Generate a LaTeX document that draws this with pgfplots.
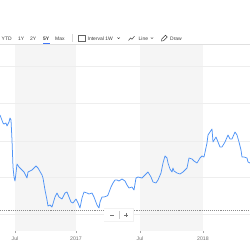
\documentclass[border=0pt]{standalone}
\usepackage{pgfplots}
\pgfplotsset{compat=1.18}
\usepackage{fontspec}
\setmainfont{Liberation Sans}
\definecolor{lineblue}{RGB}{80,148,246}
\definecolor{band}{RGB}{245,245,245}
\definecolor{gridc}{RGB}{238,238,238}
\definecolor{txt}{RGB}{60,60,60}
\definecolor{ticktxt}{RGB}{110,110,110}
\pgfplotstableread{
x y
0 135
3 127
4 126
6 127
7 124
9 128
10 132
11 130
12 110
13 83
14 73
15 69
16 77
17 86
19 83
22 80
24 78
27 72
28 78
32 80
36 84
38 82
42 75
43 72
45 60
47 50
48 44
50 45
52 43
55 53
57 57
59 53
62 51
65 57
67 58
69 53
71 48
73 47
76 51
78 47
80 42
82 52
84 58
87 57
89 56
92 57
94 53
97 45
99 42
100 48
102 53
104 53
107 54
108 55
111 63
113 67
115 70
117 70
119 69
122 71
125 69
127 65
129 62
132 63
134 60
136 72
138 73
142 72
145 75
148 78
151 73
153 68
156 67
158 70
161 77
163 87
165 94
167 92
168 87
170 81
172 78
173 82
174 79
177 77
180 76
183 78
187 82
189 92
192 91
194 89
197 87
200 92
202 94
204 93
207 107
208 115
210 118
212 121
213 108
216 113
218 108
220 103
222 103
225 108
228 115
230 111
232 111
235 118
237 115
239 108
241 100
242 93
244 93
247 92
248 88
250 87
}\price
\begin{document}
\begin{tikzpicture}[x=1bp,y=1bp]
\begin{axis}[
  set layers,
  scale only axis, width=250bp, height=186bp,
  at={(0,19)}, anchor=south west,
  xmin=0, xmax=250, ymin=19, ymax=205,
  axis line style={draw=none},
  ytick={36,73,109,147,184}, yticklabels={},
  ymajorgrids, grid style={gridc, line width=0.5bp},
  xtick={15,76,140,203}, xticklabels={Jul,2017,Jul,2018},
  xtick pos=lower, ytick style={draw=none},
  xtick style={draw=gridc!70!black, line width=0.4bp},
  tick align=outside, major tick length=2bp,
  xticklabel style={font=\fontsize{5.2}{6}\selectfont, text=ticktxt, yshift=-0.5bp},
]
\begin{pgfonlayer}{axis background}
\fill[band] (axis cs:15,19) rectangle (axis cs:76,205);
\fill[band] (axis cs:140,19) rectangle (axis cs:203,205);
\end{pgfonlayer}
\draw[gridc!85!black, line width=0.5bp] (axis cs:0,19) -- (axis cs:250,19);
\draw[black!45, line width=0.4bp, dash pattern=on 1.1bp off 1bp] (axis cs:0,40) -- (axis cs:250,40);
\addplot[lineblue, line width=0.75bp, line join=round, no marks] table[x=x,y=y] {\price};
\end{axis}
% zoom buttons
\fill[black!5] (103.5,27.5) rectangle (133.5,41.5);
\fill[white] (104,28.5) rectangle (133,41);
\draw[black!55, line width=0.6bp] (110,35) -- (114,35);
\draw[black!55, line width=0.6bp] (124,35) -- (128,35) (126,33) -- (126,37);
\draw[black!20, line width=0.4bp] (119,31) -- (119,39);
% toolbar separator
\draw[black!12, line width=0.5bp] (0,206) -- (250,206);
% toolbar text
\begin{scope}[every node/.style={font=\fontsize{5}{6}\selectfont, text=txt, inner sep=0pt, anchor=base west}]
\node at (1.5,210) {YTD};
\node at (18,210) {1Y};
\node at (30,210) {2Y};
\node[font=\fontsize{5}{6}\selectfont\bfseries] at (43,210) {5Y};
\node at (55,210) {Max};
\node at (87.5,210) {Interval 1W};
\node at (138.5,210) {Line};
\node at (170,210) {Draw};
\end{scope}
\fill[lineblue!80!blue] (42.5,206.3) rectangle (50,207.3);
\draw[black!15, line width=0.4bp] (72.5,208) -- (72.5,216);
% calendar icon
\draw[txt!80, line width=0.45bp] (78.5,208.8) rectangle (85.5,214.8);
\fill[txt!80] (78.5,213.5) rectangle (85.5,214.8);
% chevrons
\draw[txt, line width=0.4bp] (117.5,212.5) -- (118.7,211.3) -- (119.9,212.5);
\draw[txt, line width=0.4bp] (150.8,212.5) -- (152,211.3) -- (153.2,212.5);
% line icon
\draw[txt, line width=0.5bp] (128.5,209.5) -- (130.5,212) -- (132,210.8) -- (134.5,213.8);
% pencil icon
\draw[txt, line width=0.45bp] (161.5,209) -- (161.8,211) -- (165.5,214.7) -- (167.2,213) -- (163.5,209.3) -- cycle;
\pgfresetboundingbox
\path[use as bounding box] (0,0) rectangle (250,250);
\end{tikzpicture}
\end{document}
